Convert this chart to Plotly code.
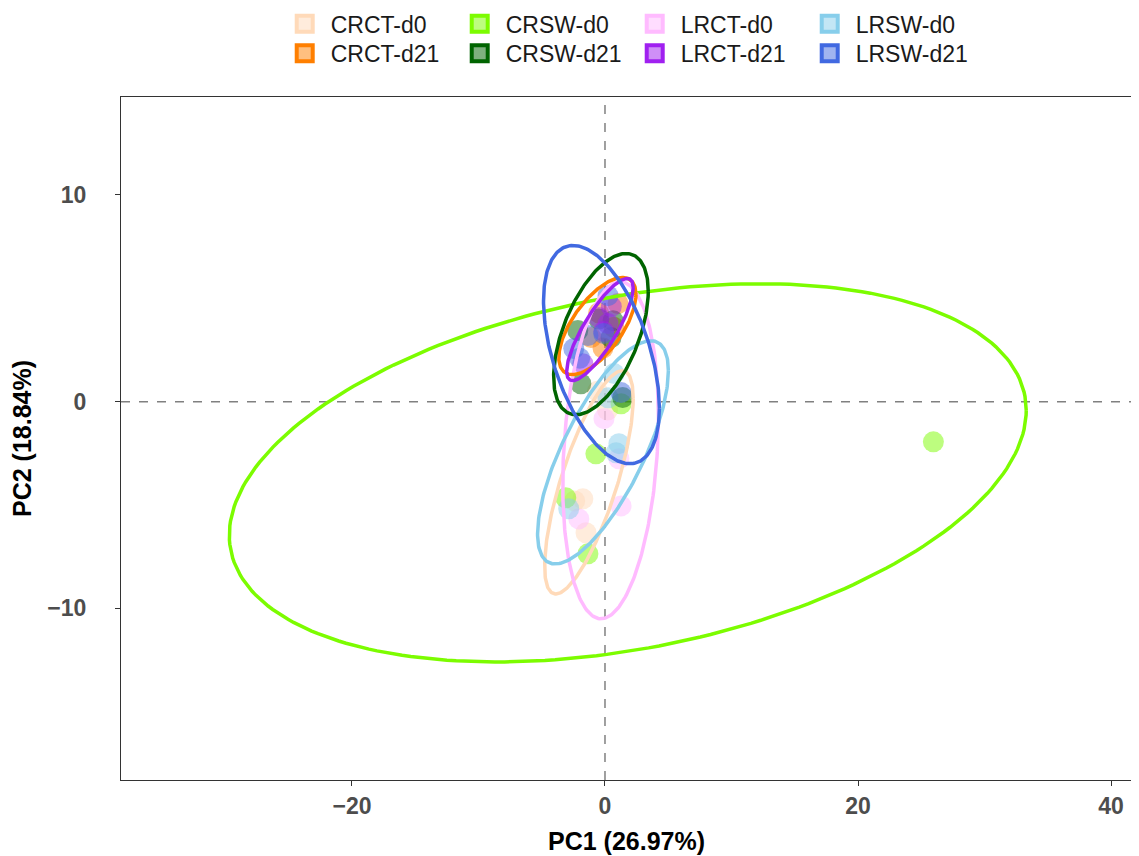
import numpy as np
import plotly.graph_objects as go

# ---- data ----
groups = ["CRCT-d0", "CRSW-d0", "LRCT-d0", "LRSW-d0",
          "CRCT-d21", "CRSW-d21", "LRCT-d21", "LRSW-d21"]
colors = ["#FFDAB9", "#7CFC00", "#FFBBFF", "#87CEEB",
          "#FF7F00", "#006400", "#A020F0", "#4169E1"]

pc1 = {
    "CRCT-d0": [-1.75, -1.5, 0.2, -0.6, -2.4],
    "CRSW-d0": [25.96, -3.1, -1.35, -0.72, 1.27],
    "LRCT-d0": [-0.08, 1.1, -2.07, 1.27],
    "LRSW-d0": [-2.87, 1.1, 0.88, 0.72, 0.24],
    "CRCT-d21": [1.03, -0.16, 0.7, -1.1, -0.5],
    "CRSW-d21": [-1.91, -2.15, 0.48, 0.64, -0.5, 1.4],
    "LRCT-d21": [-0.48, 0.24, -1.75, -0.1, 0.5],
    "LRSW-d21": [-2.47, -1.35, 0.24, 1.27, -0.1, -2.0],
}
pc2 = {
    "CRCT-d0": [-4.7, -6.34, -0.4, 0.5, -4.8],
    "CRSW-d0": [-1.94, -4.65, -7.36, -2.52, -0.1],
    "LRCT-d0": [-0.82, -2.76, -5.67, -5.04],
    "LRSW-d0": [-5.18, -2.03, -2.47, 1.36, 0.19],
    "CRCT-d21": [4.75, 2.6, 3.6, 3.1, 4.3],
    "CRSW-d21": [0.87, 3.44, 3.1, 3.92, 4.0, 0.2],
    "LRCT-d21": [4.07, 3.78, 1.84, 3.4, 4.6],
    "LRSW-d21": [2.57, 3.2, 5.13, 0.44, 3.3, 2.1],
}

# 95% ellipse parameters: centre, half extents, correlation
ell_cx = [-1.27, 1.8, 0.44, -0.16, -0.6, -0.32, -0.4, -0.28]
ell_cy = [-3.9, -3.44, -2.35, -2.45, 3.66, 3.27, 3.49, 2.28]
ell_rx = [3.5, 31.5, 3.78, 5.17, 3.05, 3.74, 2.63, 4.58]
ell_ry = [5.4, 9.15, 8.15, 5.4, 2.35, 3.9, 2.47, 5.28]
ell_rho = [0.75, 0.33, 0.2, 0.73, 0.65, 0.53, 0.82, -0.49]

x_ticks = [-20, 0, 20, 40]
y_ticks = [-10, 0, 10]
x_title = "PC1 (26.97%)"
y_title = "PC2 (18.84%)"


def rgba(hexc, a):
    h = hexc.lstrip("#")
    r, g, b = int(h[0:2], 16), int(h[2:4], 16), int(h[4:6], 16)
    return f"rgba({r},{g},{b},{a})"


fig = go.Figure()
FONT = "Liberation Sans, Arial, sans-serif"

# points
for g, c in zip(groups, colors):
    fig.add_trace(go.Scatter(
        x=pc1[g], y=pc2[g], mode="markers", showlegend=False,
        marker=dict(size=21, color=rgba(c, 0.5), line=dict(width=0)),
        hoverinfo="skip"))

# ellipses
t = np.linspace(0, 2 * np.pi, 241)
for i, (g, c) in enumerate(zip(groups, colors)):
    ex = ell_cx[i] + ell_rx[i] * np.cos(t)
    ey = ell_cy[i] + ell_ry[i] * (ell_rho[i] * np.cos(t)
                                  + np.sqrt(1 - ell_rho[i] ** 2) * np.sin(t))
    fig.add_trace(go.Scatter(x=ex, y=ey, mode="lines", showlegend=False,
                             line=dict(color=c, width=3.5), hoverinfo="skip"))

# legend entries
for i, (g, c) in enumerate(zip(groups, colors)):
    fig.add_trace(go.Scatter(
        x=[None], y=[None], mode="markers", name=g,
        legend="legend" if i < 4 else "legend2",
        marker=dict(symbol="square", size=16, color=rgba(c, 0.5),
                    line=dict(color=c, width=4))))

fig.add_hline(y=0, line=dict(color="#808080", width=1.5, dash="dash"), layer="below")
fig.add_vline(x=0, line=dict(color="#808080", width=1.5, dash="dash"), layer="below")

legend_common = dict(orientation="h", xanchor="left", yanchor="middle",
                     font=dict(family=FONT, size=23, color="#1a1a1a"),
                     entrywidth=118, itemwidth=42, itemsizing="trace",
                     bgcolor="rgba(0,0,0,0)", tracegroupgap=0)
# the page body adds an 8px offset, so the figure is 8px smaller than the window
fig.update_layout(
    width=1131, height=848,
    margin=dict(l=113, r=7, t=89, b=76, autoexpand=False),
    plot_bgcolor="white", paper_bgcolor="white",
    legend=dict(x=0.156, y=1.107, **legend_common),
    legend2=dict(x=0.156, y=1.064, **legend_common),
    xaxis=dict(range=[-38.26, 41.66], tickvals=x_ticks, showgrid=False, zeroline=False,
               automargin=False,
               showline=True, mirror=True, linecolor="#333333", linewidth=1.3,
               ticks="outside", ticklen=5, tickcolor="#333333",
               tickfont=dict(family=FONT, size=23, color="#4D4D4D", weight="bold"),
               title=dict(text=x_title, font=dict(family=FONT, size=25, color="black", weight="bold"),
                          standoff=14)),
    yaxis=dict(range=[-18.3, 14.74], tickvals=y_ticks, showgrid=False, zeroline=False,
               automargin=False,
               showline=True, mirror=True, linecolor="#333333", linewidth=1.3,
               ticks="outside", ticklen=5, tickcolor="#333333", ticklabelstandoff=24,
               tickfont=dict(family=FONT, size=23, color="#4D4D4D", weight="bold"),
               title=dict(text=y_title, font=dict(family=FONT, size=25, color="black", weight="bold"),
                          standoff=16)),
)

fig.write_html("out.html")
